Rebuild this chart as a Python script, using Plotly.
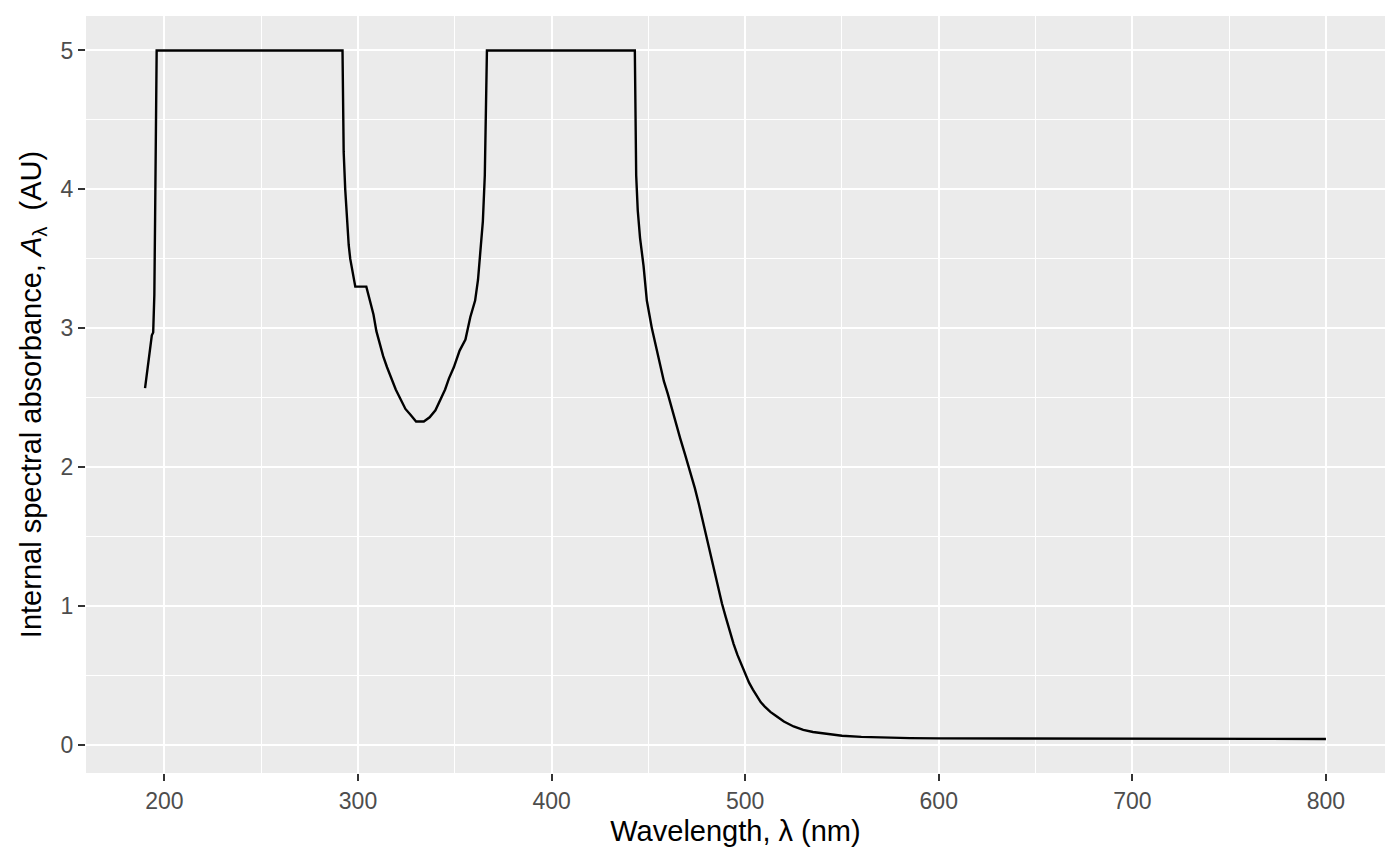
import plotly.graph_objects as go

wavelength = [190, 191.6, 192.8, 193.5, 194.2, 194.8, 195.2, 195.5, 196, 292,
              292.6, 293.4, 294.3, 295.2, 296.0, 296.9, 298.6, 304.3, 306, 308,
              309.5, 311, 313, 315, 317, 319.5, 322, 324.5, 327, 330,
              334, 337, 340, 342.5, 345, 347, 349.5, 352.5, 355.5, 358,
              360.5, 362, 363, 364.5, 365.5, 366, 366.6, 443, 443.3, 443.7,
              444.5, 445.7, 447.5, 449.2, 451.8, 454, 456, 458, 460, 461.5,
              463.8, 466.4, 469, 471.6, 474, 476, 478, 480, 482, 484,
              486, 488, 490, 492, 494, 496, 498, 500, 502, 504,
              506, 508, 510, 513, 516, 520, 525, 530, 535, 540,
              545, 550, 560, 570, 585, 600, 650, 700, 750, 800]
absorbance = [2.57, 2.74, 2.90, 2.95, 2.97, 3.24, 3.8, 4.5, 5.0, 5.0,
              4.27, 4.0, 3.75, 3.6, 3.5, 3.43, 3.30, 3.30, 3.2, 3.10,
              2.98, 2.90, 2.80, 2.72, 2.65, 2.56, 2.49, 2.42, 2.38, 2.33,
              2.33, 2.36, 2.41, 2.48, 2.56, 2.64, 2.72, 2.84, 2.92, 3.08,
              3.20, 3.35, 3.50, 3.77, 4.10, 4.5, 5.0, 5.0, 4.6, 4.1,
              3.85, 3.65, 3.45, 3.2, 3.0, 2.87, 2.74, 2.62, 2.53, 2.45,
              2.34, 2.21, 2.09, 1.97, 1.85, 1.74, 1.62, 1.49, 1.37, 1.25,
              1.13, 1.02, 0.92, 0.82, 0.73, 0.65, 0.58, 0.51, 0.45, 0.40,
              0.35, 0.31, 0.28, 0.24, 0.21, 0.17, 0.135, 0.11, 0.095, 0.085,
              0.075, 0.068, 0.060, 0.055, 0.051, 0.049, 0.047, 0.046, 0.045, 0.045]

x_ticks = [200, 300, 400, 500, 600, 700, 800]
y_ticks = [0, 1, 2, 3, 4, 5]
x_minor = [250, 350, 450, 550, 650, 750]
y_minor = [0.5, 1.5, 2.5, 3.5, 4.5]

FONT = "Liberation Sans, Arial, sans-serif"

fig = go.Figure()
fig.add_trace(go.Scatter(x=wavelength, y=absorbance, mode="lines",
                         line=dict(color="black", width=2.4), showlegend=False,
                         hoverinfo="x+y"))

fig.update_layout(
    width=1400, height=866,
    margin=dict(l=78, r=23, t=8, b=101),
    paper_bgcolor="white", plot_bgcolor="#EBEBEB",
    font=dict(family=FONT, size=23, color="#4D4D4D"),
)

for upd, ticks, minor, rng, title, standoff in (
    (fig.update_xaxes, x_ticks, x_minor, [159.5, 830.5], "Wavelength, λ (nm)", 8),
    (fig.update_yaxes, y_ticks, y_minor, [-0.2, 5.248],
     "Internal spectral absorbance, <i>A</i><sub>λ</sub>  (AU)", 10),
):
    upd(range=rng, tickmode="array", tickvals=ticks, ticktext=[str(v) for v in ticks],
        showgrid=True, gridcolor="white", gridwidth=2.2,
        zeroline=False, showline=False, automargin=False,
        ticks="outside", ticklen=7, tickwidth=2, tickcolor="#333333",
        tickfont=dict(family=FONT, size=23, color="#4D4D4D"),
        title=dict(text=title, standoff=standoff,
                   font=dict(family=FONT, size=29, color="black")),
        minor=dict(tickvals=minor, showgrid=True, gridcolor="white",
                   gridwidth=1.1, ticks=""))

fig.write_html("out.html")
